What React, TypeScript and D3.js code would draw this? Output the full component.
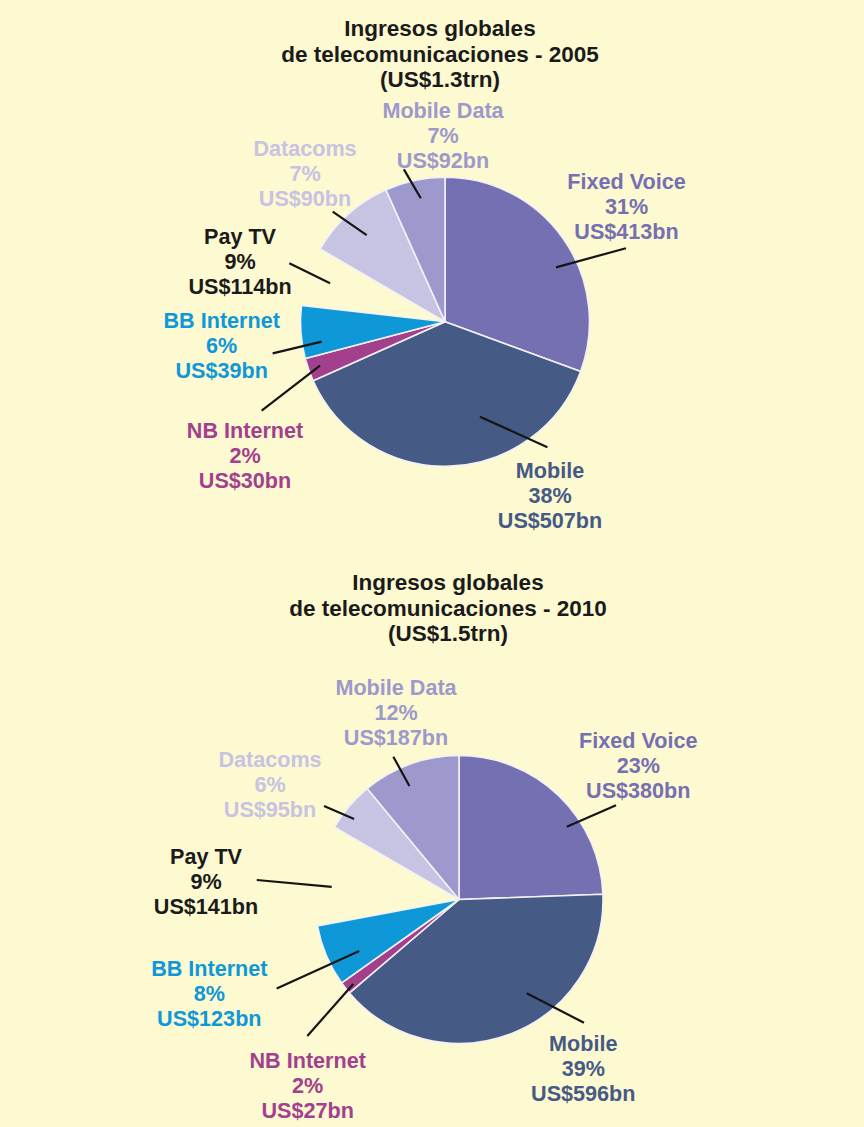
import React from "react";
import * as d3 from "d3";

// categories in clockwise order from 12 o'clock
const categories = ["Fixed Voice", "Mobile", "NB Internet", "BB Internet", "Pay TV", "Datacoms", "Mobile Data"];

// slice sizes as they are drawn in the picture (% of the circle)
const drawn2005 = [30.6, 37.7, 2.6, 5.9, 6.6, 9.9, 6.7];
const drawn2010 = [24.4, 39.3, 1.4, 6.9, 11.3, 5.6, 11.0];

// figures printed in the labels
const pct2005 = [31, 38, 2, 6, 9, 7, 7];
const pct2010 = [23, 39, 2, 8, 9, 6, 12];
const bn2005 = [413, 507, 30, 39, 114, 90, 92];
const bn2010 = [380, 596, 27, 123, 141, 95, 187];

const years = ["2005", "2010"];
const totals = ["US$1.3trn", "US$1.5trn"];

const sliceColors = ["#7570b2", "#465a86", "#a3408e", "#0e98d8", "none", "#c7c3e2", "#9e99cc"];
const labelColors = ["#7570b2", "#465a86", "#a3408e", "#0e98d8", "#1b1b1b", "#c7c3e2", "#9e99cc"];

const BG = "#fdf9d1";
const FONT = "'Liberation Sans', Arial, Helvetica, sans-serif";
const LINE = 25;

// layout: pie centre, radius, title centre, label offsets from centre, leader lines (angle deg, radius)
const layouts = [
  {
    cx: 445, cy: 321.7, r: 144.5, tx: 440, ty: 28,
    labels: [[181.5, -140.7], [105, 148.3], [-200, 109], [-223.3, -1.7], [-205, -85], [-140, -173.7], [-2, -211.7]],
    leaders: [
      [63.9, 123.6, 67.9, 195.3], [159.8, 101.2, 140.8, 162], [250.6, 132.5, 244.1, 203.8],
      [260.8, 124.9, 259.6, 175.2], [288.5, 121.2, 290.6, 166.3], [317.9, 116.8, 314.4, 157.2],
      [348.9, 125.8, 344.9, 157.8],
    ],
  },
  {
    cx: 459, cy: 899.5, r: 144, tx: 448, ty: 582,
    labels: [[179.3, -159.5], [124.3, 143.8], [-151.3, 160.5], [-249.7, 68.8], [-253, -42.8], [-189, -140.5], [-63, -212.5]],
    leaders: [
      [56.0, 130, 59.0, 183.2], [144.2, 115.7, 134.6, 175.5], [231.4, 135.3, 228.0, 204.1],
      [242.7, 112.2, 244.0, 202.8], [275.7, 127.9, 275.5, 203.2], [307.5, 132.3, 304.7, 164.2],
      [336.4, 123.9, 335.3, 157.2],
    ],
  },
];

function PieBlock({ idx, drawn, pct, bn }: { idx: number; drawn: number[]; pct: number[]; bn: number[] }) {
  const L = layouts[idx];
  const pieGen = d3.pie<number>().sort(null).value((d) => d);
  const arcs = pieGen(drawn);
  const arcGen = d3.arc<d3.PieArcDatum<number>>().innerRadius(0).outerRadius(L.r);
  const rad = (deg: number) => (deg * Math.PI) / 180;
  const title = ["Ingresos globales", `de telecomunicaciones - ${years[idx]}`, `(${totals[idx]})`];

  return (
    <g>
      <g fontFamily={FONT} fontWeight="bold" fontSize={22.5} fill="#1b1b1b" textAnchor="middle">
        {title.map((t, i) => (
          <text key={i} x={L.tx} y={L.ty + i * 25.5} dy="0.36em">{t}</text>
        ))}
      </g>
      <g transform={`translate(${L.cx},${L.cy})`}>
        {arcs.map((a, i) => (
          <path
            key={i}
            d={arcGen(a) || ""}
            fill={sliceColors[i]}
            stroke={sliceColors[i] === "none" ? "none" : "#f3f1f4"}
            strokeWidth={1.6}
            strokeLinejoin="round"
          />
        ))}
        {L.leaders.map((l, i) => {
          const [x1, y1] = d3.pointRadial(rad(l[0]), l[1]);
          const [x2, y2] = d3.pointRadial(rad(l[2]), l[3]);
          return <line key={i} x1={x1} y1={y1} x2={x2} y2={y2} stroke="#151515" strokeWidth={2.2} />;
        })}
        <g fontFamily={FONT} fontWeight="bold" fontSize={21.6} textAnchor="middle">
          {categories.map((c, i) => {
            const [lx, ly] = L.labels[i];
            return (
              <g key={c} fill={labelColors[i]}>
                <text x={lx} y={ly} dy="0.36em">{c}</text>
                <text x={lx} y={ly + LINE} dy="0.36em">{`${pct[i]}%`}</text>
                <text x={lx} y={ly + 2 * LINE} dy="0.36em">{`US$${bn[i]}bn`}</text>
              </g>
            );
          })}
        </g>
      </g>
    </g>
  );
}

export default function App() {
  return (
    <svg
      width={864}
      height={1127}
      viewBox="0 0 864 1127"
      style={{ position: "absolute", left: 0, top: 0, display: "block" }}
    >
      <rect width={864} height={1127} fill={BG} />
      <PieBlock idx={0} drawn={drawn2005} pct={pct2005} bn={bn2005} />
      <PieBlock idx={1} drawn={drawn2010} pct={pct2010} bn={bn2010} />
    </svg>
  );
}
